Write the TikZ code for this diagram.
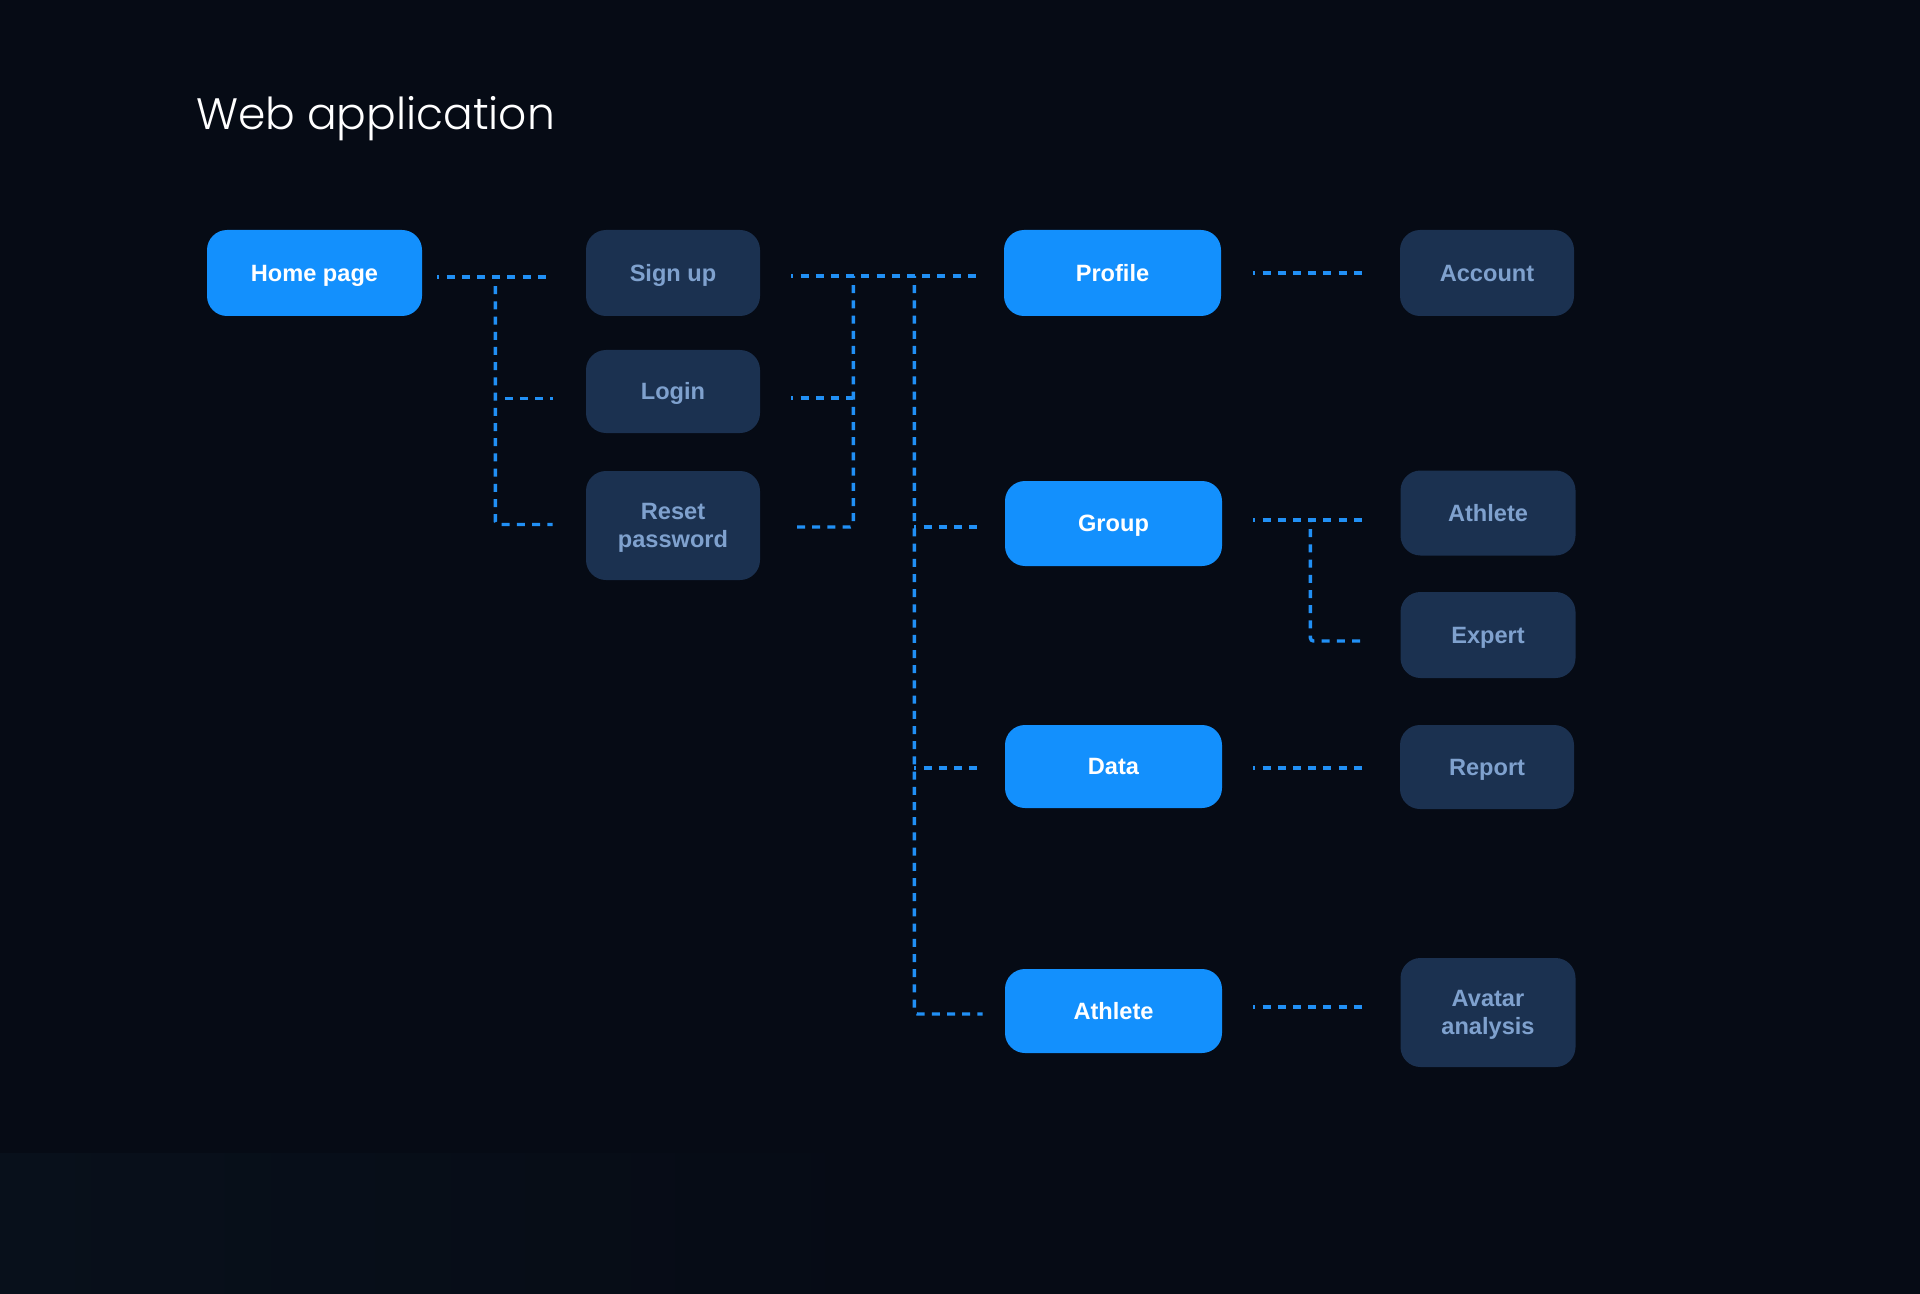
\documentclass[tikz,border=0pt]{standalone}
\usepackage{fontspec}
\setmainfont{Liberation Sans}
\newfontfamily\titlefont{Poppins Light}
\usetikzlibrary{calc}
\definecolor{bg}{HTML}{060B15}
\definecolor{bgl}{HTML}{08101B}
\definecolor{bluefill}{HTML}{1390FD}
\definecolor{darkfill}{HTML}{1B3150}
\definecolor{darktext}{HTML}{7FA1CE}
\definecolor{linec}{HTML}{2190F5}
\tikzset{
  base/.style={rounded corners=10pt, inner sep=0pt, align=center, text depth=0pt,
    font=\fontsize{11.8pt}{14pt}\selectfont\bfseries},
  oneline/.style={text height=8.4pt},
  bluebox/.style={base, oneline, fill=bluefill, text=white, minimum width=108.5pt, minimum height=42.5pt},
  darkbox/.style={base, oneline, fill=darkfill, text=darktext, minimum width=87pt, minimum height=42.5pt},
  twobox/.style={base, fill=darkfill, text=darktext, minimum width=87pt},
  conn/.style={draw=linec, line width=1.7pt, dash pattern=on 4pt off 3.6pt, dash phase=3pt, rounded corners=1.5pt}
}
\begin{document}
\begin{tikzpicture}[x=0.5pt, y=-0.5pt]
\useasboundingbox (0,0) rectangle (1920,1294);
\fill[bg] (0,0) rectangle (1920,1294);
\shade[left color=bgl, right color=bg] (0,1153) rectangle (900,1294);

\node[anchor=base west, text=white, font=\titlefont\fontsize{22pt}{26pt}\selectfont] (title) at (189,130) {Web application};

% nodes
\node[bluebox, minimum width=107.5pt, minimum height=43pt] (home) at (314.5,273) {Home page};
\node[darkbox, minimum height=43pt] (signup) at (673,273) {Sign up};
\node[darkbox, minimum height=41.5pt] (login) at (673,391.5) {Login};
\node[twobox, minimum height=54.5pt] (reset) at (673,525.5) {Reset\\password};

\node[bluebox, minimum height=43pt] (profile) at (1112.5,273) {Profile};
\node[bluebox] (group) at (1113.5,523.5) {Group};
\node[bluebox, minimum height=41.5pt] (data) at (1113.5,766.5) {Data};
\node[bluebox, minimum height=42pt] (athleteb) at (1113.5,1011) {Athlete};

\node[darkbox, minimum height=43pt] (account) at (1487,273) {Account};
\node[darkbox, minimum width=87.5pt] (athleter) at (1488,513) {Athlete};
\node[darkbox, minimum width=87.5pt, minimum height=43pt] (expert) at (1488,635) {Expert};
\node[darkbox, minimum height=42pt] (report) at (1487,767) {Report};
\node[twobox, minimum width=87.5pt, minimum height=54.5pt] (avatar) at (1488,1012.5) {Avatar\\analysis};

% junction coordinates
\coordinate (jl) at ($(home.east)+(73,4)$);
\coordinate (jm1) at ($(signup.east)+(93,3)$);
\coordinate (jm2) at ($(signup.east)+(154,3)$);
\coordinate (jr) at ($(group.east)+(88,-3.5)$);

% left group
\draw[conn] ($(home.east)+(15,4)$) -- ($(signup.west)+(-33,4)$);
\draw[conn] (jl) |- ($(reset.west)+(-33,-1)$);
\draw[conn] (jl |- {$(login.west)+(0,7)$}) -- ($(login.west)+(-33,7)$);

% middle group
\draw[conn] ($(signup.east)+(31,3)$) -- ($(profile.west)+(-21,3)$);
\draw[conn] (jm1) |- ($(reset.east)+(31,1.5)$);
\draw[conn] ($(login.east)+(31,6.5)$) -- (jm1 |- {$(login.east)+(0,6.5)$});
\draw[conn] (jm2) |- ($(athleteb.west)+(-22,3)$);
\draw[conn] (jm2 |- {$(group.west)+(0,3.5)$}) -- ($(group.west)+(-22,3.5)$);
\draw[conn] (jm2 |- {$(data.west)+(0,1.5)$}) -- ($(data.west)+(-22,1.5)$);

% right group
\draw[conn] ($(profile.east)+(32,0)$) -- ($(account.west)+(-33,0)$);
\draw[conn] ($(group.east)+(31,-3.5)$) -- ($(athleter.west)+(-34,7)$);
\draw[conn] (jr) |- ($(expert.west)+(-34,6)$);
\draw[conn] ($(data.east)+(31,1.5)$) -- ($(report.west)+(-33,1)$);
\draw[conn] ($(athleteb.east)+(31,-4)$) -- ($(avatar.west)+(-34,-5.5)$);
\end{tikzpicture}
\end{document}
